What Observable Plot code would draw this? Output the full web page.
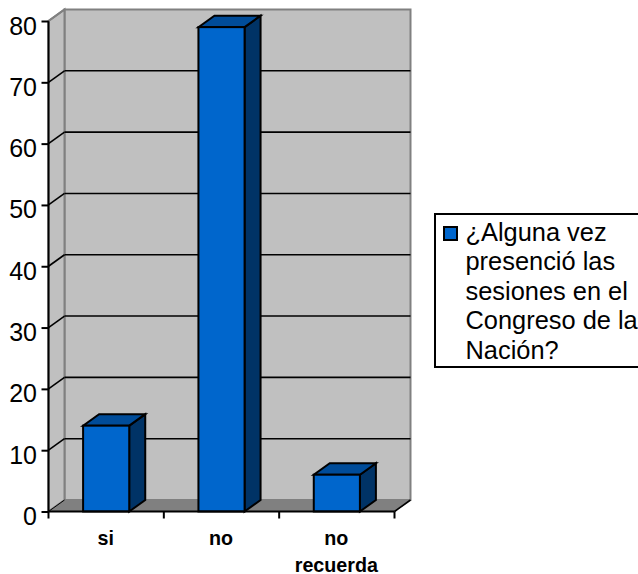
<!DOCTYPE html>
<html>
<head>
<meta charset="utf-8">
<script src="https://cdn.jsdelivr.net/npm/d3@7"></script>
<script src="https://cdn.jsdelivr.net/npm/@observablehq/plot@0.6"></script>
<style>
html,body{margin:0;padding:0;background:#fff;overflow:hidden}
#wrap{position:relative;width:638px;height:574px;overflow:hidden}
#legend{position:absolute;left:433.5px;top:212.5px;width:220px;height:155px;box-sizing:border-box;border:2px solid #000;background:#fff;font-family:"Liberation Sans",Arial,sans-serif;font-size:25.4px;line-height:29.5px;color:#000;padding:3px 0 0 30px;white-space:pre}
#swatch{position:absolute;left:7px;top:11px;width:11px;height:11px;border:2px solid #000;background:#0066CC}
</style>
</head>
<body>
<div id="wrap"><div id="legend"><span id="swatch"></span><span id="legendText"></span></div></div>
<script>
const categories = ["si", "no", "no\nrecuerda"];
const values = [14, 79, 6];
const yTicks = [0, 10, 20, 30, 40, 50, 60, 70, 80];
const legendLines = ["¿Alguna vez", "presenció las", "sesiones en el", "Congreso de la", "Nación?"];

const depthX = 16, depthY = -11.5;
const rows = categories.map((c, i) => ({category: c, value: values[i]}));
const NS = "http://www.w3.org/2000/svg";

function poly(g, pts, fill, stroke, sw) {
  const p = document.createElementNS(NS, "polygon");
  p.setAttribute("points", pts.map(q => q.join(",")).join(" "));
  p.setAttribute("fill", fill);
  p.setAttribute("stroke", stroke);
  p.setAttribute("stroke-width", sw);
  p.setAttribute("stroke-linejoin", "miter");
  g.appendChild(p);
}
function seg(g, a, b, stroke, sw) {
  const l = document.createElementNS(NS, "line");
  l.setAttribute("x1", a[0]); l.setAttribute("y1", a[1]);
  l.setAttribute("x2", b[0]); l.setAttribute("y2", b[1]);
  l.setAttribute("stroke", stroke); l.setAttribute("stroke-width", sw);
  g.appendChild(l);
}

// Walls, floor and gridlines of the 3D box, placed through the scales
function walls(index, {x, y}) {
  const g = document.createElementNS(NS, "g");
  const step = x.bandwidth() / 0.4;
  const x0 = x(categories[0]) - step * 0.3, x1 = x0 + step * categories.length;
  const y0 = y(0), yT = y(d3.max(yTicks));
  poly(g, [[x0 + depthX, y0 + depthY], [x1 + depthX, y0 + depthY], [x1 + depthX, yT + depthY], [x0 + depthX, yT + depthY]], "#C0C0C0", "#808080", 2);
  poly(g, [[x0, y0], [x0 + depthX, y0 + depthY], [x0 + depthX, yT + depthY], [x0, yT]], "#C0C0C0", "#808080", 2);
  poly(g, [[x0, y0], [x1, y0], [x1 + depthX, y0 + depthY], [x0 + depthX, y0 + depthY]], "#808080", "#808080", 1);
  for (const t of yTicks) {
    if (t === 0 || t === d3.max(yTicks)) continue;
    seg(g, [x0, y(t)], [x0 + depthX, y(t) + depthY], "#000", 1.6);
    seg(g, [x0 + depthX, y(t) + depthY], [x1 + depthX, y(t) + depthY], "#000", 1.6);
  }
  seg(g, [x0, y0], [x0 + depthX, y0 + depthY], "#000", 1);
  seg(g, [x1, y0], [x1 + depthX, y0 + depthY], "#000", 1.6);
  return g;
}

// Side and top faces of each bar
function barFaces(index, {x, y}) {
  const g = document.createElementNS(NS, "g");
  const w = x.bandwidth();
  rows.forEach(d => {
    const l = x(d.category), r = l + w, t = y(d.value), b = y(0);
    poly(g, [[r, b], [r + depthX, b + depthY], [r + depthX, t + depthY], [r, t]], "#003366", "#000", 2);
    poly(g, [[l, t], [r, t], [r + depthX, t + depthY], [l + depthX, t + depthY]], "#004C99", "#000", 2);
  });
  return g;
}

// Axis lines and the ticks between the categories
function axisLines(index, {x, y}) {
  const g = document.createElementNS(NS, "g");
  const step = x.bandwidth() / 0.4;
  const x0 = x(categories[0]) - step * 0.3;
  const y0 = y(0), yT = y(d3.max(yTicks));
  seg(g, [x0, yT], [x0, y0], "#000", 2);
  seg(g, [x0, y0], [x0 + step * categories.length, y0], "#000", 2);
  seg(g, [x0, yT], [x0 + depthX, yT + depthY], "#808080", 2);
  for (let i = 0; i <= categories.length; i++) {
    seg(g, [x0 + i * step, y0], [x0 + i * step, y0 + 7], "#000", 2);
  }
  return g;
}

const chart = Plot.plot({
  width: 638,
  height: 574,
  marginTop: 21,
  marginBottom: 62.5,
  marginLeft: 48.5,
  marginRight: 243.5,
  style: {background: "transparent", fontFamily: '"Liberation Sans", Arial, sans-serif', color: "#000"},
  x: {domain: categories, paddingInner: 0.6, paddingOuter: 0.3, align: 0.5, round: false, label: null},
  y: {domain: [0, 80], label: null},
  marks: [
    walls,
    barFaces,
    Plot.barY(rows, {x: "category", y: "value", fill: "#0066CC", stroke: "#000", strokeWidth: 2}),
    axisLines,
    Plot.axisY({ticks: yTicks, tickSize: 7, tickPadding: 5, fontSize: 25, textStroke: "none", tickFormat: d => d, stroke: "#000", strokeWidth: 2, label: null, marker: null}),
    Plot.axisX({tickSize: 0, tickPadding: 14, fontSize: 19.7, fontWeight: "bold", lineHeight: 1.37, lineAnchor: "top", dx: -1, label: null})
  ]
});
chart.style.position = "absolute";
chart.style.left = "0";
chart.style.top = "0";
// nudge the y tick labels down to sit as in the reference
chart.querySelectorAll('[aria-label="y-axis tick label"] text').forEach(t => {
  t.setAttribute("dy", "0.2em");
});
const wrap = document.getElementById("wrap");
wrap.insertBefore(chart, wrap.firstChild);
document.getElementById("legendText").textContent = legendLines.join("\n");
</script>
</body>
</html>
